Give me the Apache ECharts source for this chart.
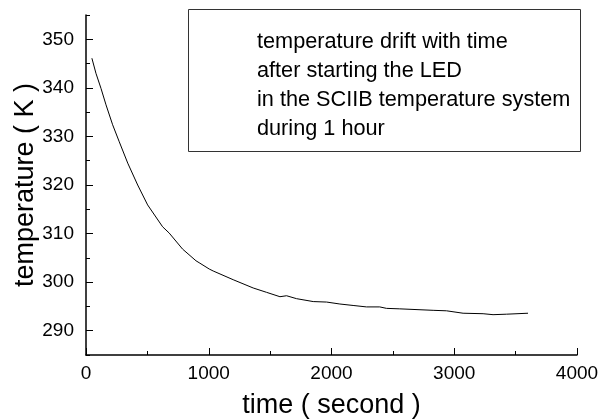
<!DOCTYPE html>
<html>
<head>
<meta charset="utf-8">
<script src="https://cdn.jsdelivr.net/npm/echarts@6/dist/echarts.min.js"></script>
<style>html,body{margin:0;padding:0;background:#fff}#c{width:601px;height:419px}</style>
</head>
<body>
<div id="c"></div>
<script>
// time in seconds
const timeSec = [48, 81, 122, 163, 217, 271, 340, 421, 502, 624, 678, 787, 896, 928, 1004, 1036, 1199, 1362, 1471, 1580, 1634, 1715, 1851, 1960, 2068, 2176, 2285, 2393, 2448, 2556, 2828, 2937, 3072, 3235, 3316, 3425, 3601];
// temperature in K
const tempK = [346.1, 343.0, 339.9, 336.5, 332.4, 328.9, 324.5, 320.0, 315.9, 311.4, 310.1, 306.8, 304.4, 303.9, 302.7, 302.3, 300.5, 298.8, 297.9, 297.0, 297.2, 296.6, 296.0, 295.9, 295.5, 295.2, 294.9, 294.9, 294.6, 294.5, 294.2, 294.1, 293.6, 293.5, 293.3, 293.4, 293.6];
const yMajorTicks = [290, 300, 310, 320, 330, 340, 350];
const yMinorTicks = [285, 295, 305, 315, 325, 335, 345, 355];
const xTicks = [0, 1000, 2000, 3000, 4000];
const noteLines = ['temperature drift with time', 'after starting the LED', 'in the SCIIB temperature system', 'during 1 hour'];
const xTitle = 'time ( second )';
const yTitle = 'temperature ( K )';

const FONT = "'Liberation Sans', Arial, sans-serif";
const chart = echarts.init(document.getElementById('c'), null, {renderer: 'canvas'});
const axisLine = {show: true, lineStyle: {color: '#000', width: 1.5}};
chart.setOption({
  animation: false,
  backgroundColor: '#fff',
  grid: {left: 86, right: 24, top: 15, bottom: 64, containLabel: false, outerBoundsMode: 'none'},
  xAxis: [{
    type: 'value', min: xTicks[0], max: xTicks[xTicks.length - 1], interval: 1000,
    axisLine: axisLine,
    axisTick: {show: true, inside: true, length: 7, lineStyle: {color: '#000', width: 1}},
    minorTick: {show: true, splitNumber: 2, length: 4, lineStyle: {color: '#000', width: 1}},
    splitLine: {show: false},
    axisLabel: {fontFamily: FONT, fontSize: 19, color: '#000', margin: 9, formatter: v => String(v)},
    name: xTitle, nameLocation: 'middle', nameGap: 37, nameMoveOverlap: false,
    nameTextStyle: {fontFamily: FONT, fontSize: 27, color: '#000'}
  }],
  yAxis: [{
    type: 'value', min: 285, max: 355, position: 'left',
    axisLine: axisLine,
    axisTick: {show: true, inside: true, length: 7, customValues: yMajorTicks, lineStyle: {color: '#000', width: 1}},
    axisLabel: {fontFamily: FONT, fontSize: 19, color: '#000', margin: 12, customValues: yMajorTicks},
    splitLine: {show: false},
    name: yTitle, nameLocation: 'middle', nameGap: 47, nameMoveOverlap: false,
    nameTextStyle: {fontFamily: FONT, fontSize: 27, color: '#000'}
  }, {
    type: 'value', min: 285, max: 355, position: 'left', offset: 0,
    axisLine: {show: false},
    axisTick: {show: true, inside: true, length: 4, customValues: yMinorTicks, lineStyle: {color: '#000', width: 1}},
    axisLabel: {show: false},
    splitLine: {show: false}
  }],
  graphic: [{
    type: 'rect', left: 186, top: 7, z: 10,
    shape: {width: 392, height: 142},
    style: {fill: 'none', stroke: '#333', lineWidth: 1}
  }, {
    type: 'text', left: 257, top: 28, z: 11,
    style: {text: noteLines.join('\n'), font: '21.7px ' + FONT, fill: '#000', lineHeight: 29}
  }],
  series: [{
    type: 'line', xAxisIndex: 0, yAxisIndex: 0,
    data: timeSec.map((t, i) => [t, tempK[i]]),
    showSymbol: false, symbol: 'none',
    lineStyle: {color: '#000', width: 1}
  }]
});
</script>
</body>
</html>
